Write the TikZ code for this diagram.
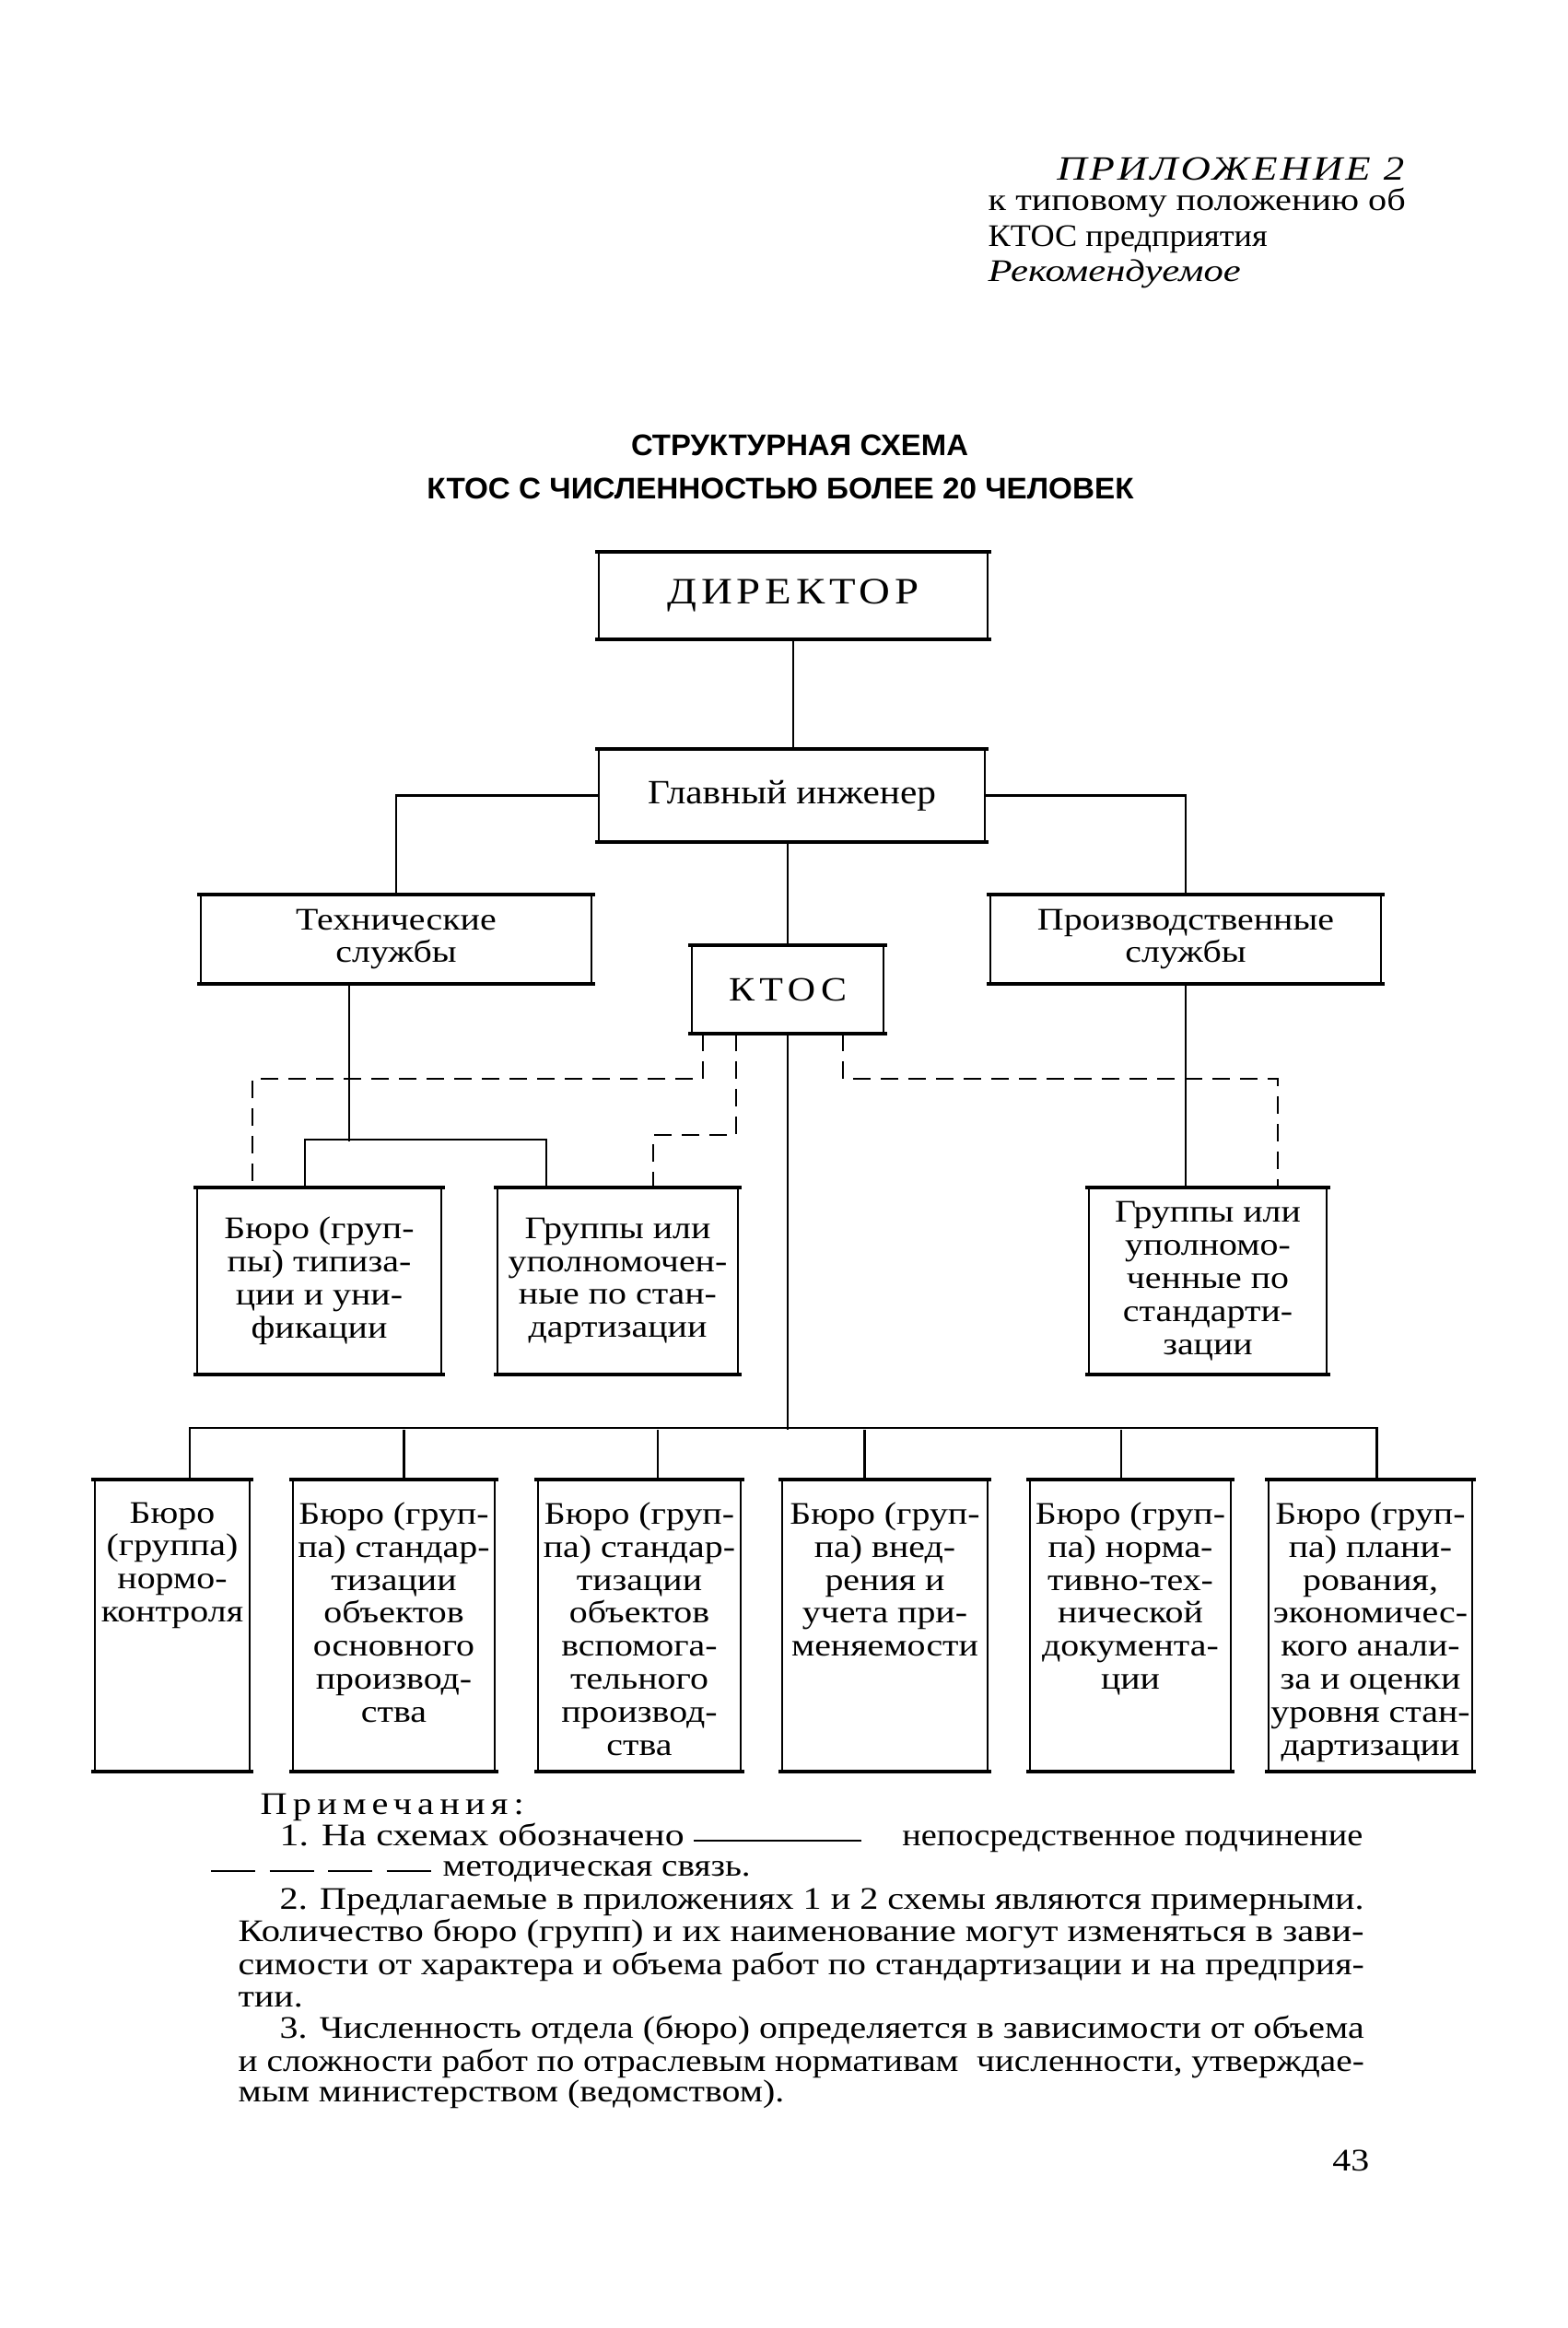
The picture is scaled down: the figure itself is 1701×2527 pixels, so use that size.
\documentclass[tikz,border=0pt]{standalone}
\usepackage{fontspec}
\usepackage{graphicx}
\setmainfont{Liberation Serif}[FakeStretch=1.17]
\newfontfamily\titlefont{Liberation Sans}
\usetikzlibrary{calc}
\newcommand\fitw[2]{\resizebox{#1}{\height}{#2}}
\newcommand\bodyfont{\fontsize{9.7}{10.2}\selectfont}
\newcommand\hedges[1]{\draw[hl] ([xshift=-0.3mm]#1.north west) -- ([xshift=0.3mm]#1.north east) ([xshift=-0.3mm]#1.south west) -- ([xshift=0.3mm]#1.south east);}
\tikzset{
 txt/.style={inner sep=0pt, font=\bodyfont},
 ttl/.style={inner sep=0pt, anchor=base, font=\titlefont\bfseries\fontsize{9.2}{11}\selectfont},
 bx/.style={draw, line width=0.55pt, inner sep=0pt, align=center, font=\bodyfont},
 hl/.style={line width=1.1pt},
 con/.style={line width=0.65pt},
 dsh/.style={line width=0.65pt, dash pattern=on 1.9mm off 1.1mm},
 lbl/.style={inner sep=0pt, align=center, font=\bodyfont, anchor=north},
}
\begin{document}
\begin{tikzpicture}[x=0.1mm,y=-0.1mm]
\fill[white] (0,0) rectangle (1701,2527);
\useasboundingbox (0,0) rectangle (1701,2527);

% header
\node[txt, anchor=base east] (app) at (1525,196) {\fitw{37.7mm}{\itshape\addfontfeature{LetterSpace=8}\fontsize{10.5}{12}\selectfont ПРИЛОЖЕНИЕ 2}};
\node[txt, anchor=base west] (h1) at (1072,229) {\fitw{45.3mm}{к типовому положению об}};
\node[txt, anchor=base west] (h2) at (1072,268) {\fitw{30.3mm}{КТОС предприятия}};
\node[txt, anchor=base west] (h3) at (1072,306) {\fitw{27.4mm}{\itshape Рекомендуемое}};

% title
\node[ttl] (t1) at (868,495) {\fitw{36.6mm}{СТРУКТУРНАЯ СХЕМА}};
\node[ttl] (t2) at (847,542) {\fitw{76.7mm}{КТОС С ЧИСЛЕННОСТЬЮ БОЛЕЕ 20 ЧЕЛОВЕК}};

% top boxes
\node[bx, minimum width=42.2mm, minimum height=9.3mm] (dir) at (861,646.5) {\fontsize{11.5}{13}\selectfont\fitw{27.3mm}{\addfontfeature{LetterSpace=12}ДИРЕКТОР}};
\node[bx, minimum width=41.9mm, minimum height=9.9mm] (gi) at (859.5,863.5) {\fontsize{10.5}{12}\selectfont\fitw{31.3mm}{Главный инженер}};
\node[bx, minimum width=42.4mm, minimum height=9.5mm] (tech) at (430,1019.5) {Технические\\службы};
\node[bx, minimum width=42.4mm, minimum height=9.5mm] (prod) at (1287,1019.5) {Производственные\\службы};
\node[bx, minimum width=20.8mm, minimum height=9.4mm] (ktos) at (855,1074) {\fontsize{10.5}{12}\selectfont\fitw{12.8mm}{\addfontfeature{LetterSpace=15}КТОС}};

% middle boxes
\node[bx, minimum width=26.5mm, minimum height=20.1mm] (m1) at (346.5,1390.5) {Бюро (груп-\\пы) типиза-\\ции и уни-\\фикации};
\node[bx, minimum width=26.1mm, minimum height=20.1mm] (m2) at (670.5,1390.5) {Группы или\\уполномочен-\\ные по стан-\\дартизации};
\node[bx, minimum width=25.8mm, minimum height=20.1mm] (m3) at (1311,1390.5) {Группы или\\уполномо-\\ченные по\\стандарти-\\зации};

% bottom boxes
\node[bx, minimum width=16.8mm, minimum height=31.5mm] (b1) at (187,1764.5) {};
\node[bx, minimum width=21.9mm, minimum height=31.5mm] (b2) at (427.5,1764.5) {};
\node[bx, minimum width=22mm, minimum height=31.5mm] (b3) at (694,1764.5) {};
\node[bx, minimum width=22.3mm, minimum height=31.5mm] (b4) at (960.5,1764.5) {};
\node[bx, minimum width=21.8mm, minimum height=31.5mm] (b5) at (1227,1764.5) {};
\node[bx, minimum width=22.1mm, minimum height=31.5mm] (b6) at (1487.5,1764.5) {};
\node[lbl] (b1t) at ($(b1.north)+(0,24)$) {Бюро\\(группа)\\нормо-\\контроля};
\node[lbl] (b2t) at ($(b2.north)+(0,24)$) {Бюро (груп-\\па) стандар-\\тизации\\объектов\\основного\\производ-\\ства};
\node[lbl] (b3t) at ($(b3.north)+(0,24)$) {Бюро (груп-\\па) стандар-\\тизации\\объектов\\вспомога-\\тельного\\производ-\\ства};
\node[lbl] (b4t) at ($(b4.north)+(0,24)$) {Бюро (груп-\\па) внед-\\рения и\\учета при-\\меняемости};
\node[lbl] (b5t) at ($(b5.north)+(0,24)$) {Бюро (груп-\\па) норма-\\тивно-тех-\\нической\\документа-\\ции};
\node[lbl] (b6t) at ($(b6.north)+(0,24)$) {Бюро (груп-\\па) плани-\\рования,\\экономичес-\\кого анали-\\за и оценки\\уровня стан-\\дартизации};

\foreach \n in {dir,gi,tech,prod,ktos,m1,m2,m3,b1,b2,b3,b4,b5,b6}{\hedges{\n}}

% solid connectors
\draw[con] (dir.south) -- (dir.south |- gi.north);
\draw[con] (gi.west) -| (tech.north);
\draw[con] (gi.east) -| (prod.north);
\draw[con] (ktos.north |- gi.south) -- (ktos.north);
\draw[con] ($(tech.south)+(-51,0)$) -- ($(tech.south)+(-51,171)$);
\coordinate (tA) at ($(m1.north)+(-15.5,-52)$);
\coordinate (tB) at ($(m2.north)+(-77.5,-52)$);
\draw[con] ($(m1.north)+(-15.5,0)$) -- (tA) -- (tB) -- ($(m2.north)+(-77.5,0)$);
\draw[con] (prod.south) -- (prod.south |- m3.north);

% dashed connectors
\draw[dsh] ($(ktos.south west)+(13,0)$) |- ($(m1.north)+(-72.5,-118)$) -- ($(m1.north)+(-72.5,0)$);
\draw[dsh] ($(ktos.south west)+(49,0)$) |- ($(m2.north)+(38.5,-57)$) -- ($(m2.north)+(38.5,0)$);
\draw[dsh] ($(ktos.south east)+(-45,0)$) |- ($(m3.north)+(76,-118)$) -- ($(m3.north)+(76,0)$);

% bus to bottom boxes
\coordinate (bus) at ($(ktos.south)+(0,430)$);
\draw[con] (ktos.south) -- (bus);
\draw[con] ($(b1.north)+(19,0)$) |- ($(b6.north)+(7,-56)$) -- ($(b6.north)+(7,0)$);
\draw[con] ($(b2.north)+(11,0)$) coordinate (v2) -- (v2 |- bus);
\draw[con] ($(b3.north)+(20,0)$) coordinate (v3) -- (v3 |- bus);
\draw[con] ($(b4.north)+(-22,0)$) coordinate (v4) -- (v4 |- bus);
\draw[con] ($(b5.north)+(-10,0)$) coordinate (v5) -- (v5 |- bus);

% notes
\node[txt, anchor=base west] (n0) at (282,1969) {\fitw{28.6mm}{\addfontfeature{LetterSpace=18}Примечания:}};
\node[txt, anchor=base west] (n1a) at (303,2003) {\fitw{43.9mm}{1. На схемах обозначено}};
\node[txt, anchor=base east] (n1b) at (1480,2003) {\fitw{50mm}{непосредственное подчинение}};
\draw[con] (753,1998) -- (935,1998);
\draw[con, dash pattern=on 4.8mm off 1.55mm] (229,2031) -- (468,2031);
\node[txt, anchor=base west] (n2) at (480,2036) {\fitw{33.4mm}{методическая связь.}};
\node[txt, anchor=base west] (n3) at (303,2072) {\fitw{117.7mm}{2. Предлагаемые в приложениях 1 и 2 схемы являются примерными.}};
\node[txt, anchor=base west] (n4) at (258,2107) {\fitw{122.2mm}{Количество бюро (групп) и их наименование могут изменяться в зави-}};
\node[txt, anchor=base west] (n5) at (258,2143) {\fitw{122.2mm}{симости от характера и объема работ по стандартизации и на предприя-}};
\node[txt, anchor=base west] (n6) at (258,2178) {тии.};
\node[txt, anchor=base west] (n7) at (303,2212) {\fitw{117.7mm}{3. Численность отдела (бюро) определяется в зависимости от объема}};
\node[txt, anchor=base west] (n8) at (258,2248) {\fitw{122.2mm}{и сложности работ по отраслевым нормативам\ \ численности, утверждае-}};
\node[txt, anchor=base west] (n9) at (258,2281) {мым министерством (ведомством).};
\node[txt, anchor=base east] (pg) at (1487,2356) {43};
\end{tikzpicture}
\end{document}
